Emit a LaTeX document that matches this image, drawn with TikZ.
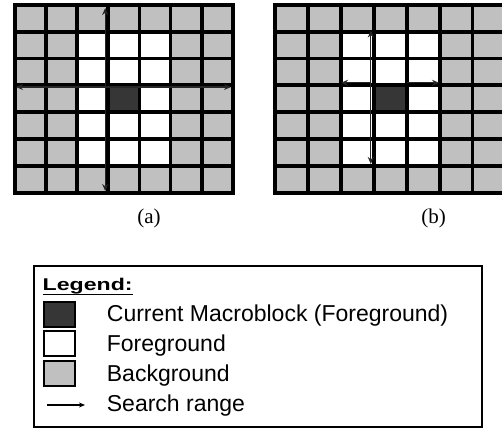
\documentclass[tikz,border=0pt]{standalone}
\usepackage{fontspec}
\setmainfont{Liberation Serif}
\newfontfamily\arialf{Liberation Sans}
\usetikzlibrary{arrows.meta}
\definecolor{bggray}{HTML}{C0C0C0}
\definecolor{cmb}{HTML}{363636}
\tikzset{
  gridline/.style={line width=3.8pt, black},
  rangearrow/.style={line width=1.2pt, black!85, -{Stealth[length=7pt,width=6pt]}},
  lbox/.style={draw=black, line width=1.6pt, minimum width=31pt, minimum height=25pt, inner sep=0pt},
  ltext/.style={anchor=base west, inner sep=0pt, font=\arialf\fontsize{23}{27}\selectfont},
  caplabel/.style={anchor=base, inner sep=0pt, font=\fontsize{21}{25}\selectfont}
}
\begin{document}
\begin{tikzpicture}[x=1pt,y=-1pt]
\useasboundingbox (0,0) rectangle (502,430);
\clip (0,0) rectangle (502,430);
% grid (a)
\begin{scope}[shift={(15,5)}, x=31.1pt, y=-26.8pt]
  \fill[bggray] (0,0) rectangle (7,7);
  \fill[white] (2,1) rectangle (5,6);
  \fill[cmb] (3,3) rectangle (4,4);
  \foreach \k in {1,...,6} {
    \draw[gridline] (\k,0) -- (\k,7);
    \draw[gridline] (0,\k) -- (7,\k);
  }
  \draw[gridline] (0,0) rectangle (7,7);
\end{scope}
% grid (b)
\begin{scope}[shift={(275,5)}, x=32.93pt, y=-26.8pt]
  \fill[bggray] (0,0) rectangle (7,7);
  \fill[white] (2,1) rectangle (5,6);
  \fill[cmb] (3,3) rectangle (4,4);
  \foreach \k in {1,...,6} {
    \draw[gridline] (\k,0) -- (\k,7);
    \draw[gridline] (0,\k) -- (7,\k);
  }
  \draw[gridline] (0,0) rectangle (7,7);
\end{scope}
% search range arrows (a)
\coordinate (ac) at (105.2,87);
\coordinate (at) at (105.2,8);
\coordinate (ab) at (105.2,191);
\coordinate (hc) at (106,87);
\coordinate (al) at (16,87);
\coordinate (ar) at (231,87);
\draw[rangearrow] (ac) -- (at);
\draw[rangearrow] (ac) -- (ab);
\draw[rangearrow] (hc) -- (al);
\draw[rangearrow] (hc) -- (ar);
% search range arrows (b)
\coordinate (bc) at (370.8,82.8);
\coordinate (bt) at (370.8,30.5);
\coordinate (bb) at (370.8,164);
\coordinate (bl) at (341,82.8);
\coordinate (brs) at (407,82.8);
\coordinate (br) at (439,82.8);
\draw[rangearrow] (bc) -- (bt);
\draw[rangearrow] (bc) -- (bb);
\draw[rangearrow] (bc) -- (bl);
\draw[rangearrow] (brs) -- (br);
% captions
\node[caplabel] (capa) at (149,223) {(a)};
\node[caplabel] (capb) at (433.5,223) {(b)};
% legend
\draw[line width=1.5pt] (34,266) rectangle (482,427);
\node[anchor=base west, inner sep=0pt, font=\arialf\bfseries\fontsize{17}{20}\selectfont] (leg) at (42.5,290.5) {\scalebox{1.36}[1]{Legend:}};
\draw[line width=1.6pt] ([yshift=-4pt]leg.base west) -- ([yshift=-4pt]leg.base east);
\node[lbox, fill=cmb] (k1) at (59.2,314.2) {};
\node[lbox, fill=white] (k2) at (59.2,343.4) {};
\node[lbox, fill=bggray] (k3) at (59.2,373.4) {};
\coordinate (s0) at (46.7,405);
\coordinate (s1) at (85,405);
\draw[line width=1.1pt, -{Stealth[length=6pt,width=5pt]}] (s0) -- (s1);
\node[ltext] (t1) at (106.7,321) {Current Macroblock (Foreground)};
\node[ltext] (t2) at (106.7,351) {Foreground};
\node[ltext] (t3) at (106.7,381) {Background};
\node[ltext] (t4) at (106.7,411.5) {Search range};
\end{tikzpicture}
\end{document}
